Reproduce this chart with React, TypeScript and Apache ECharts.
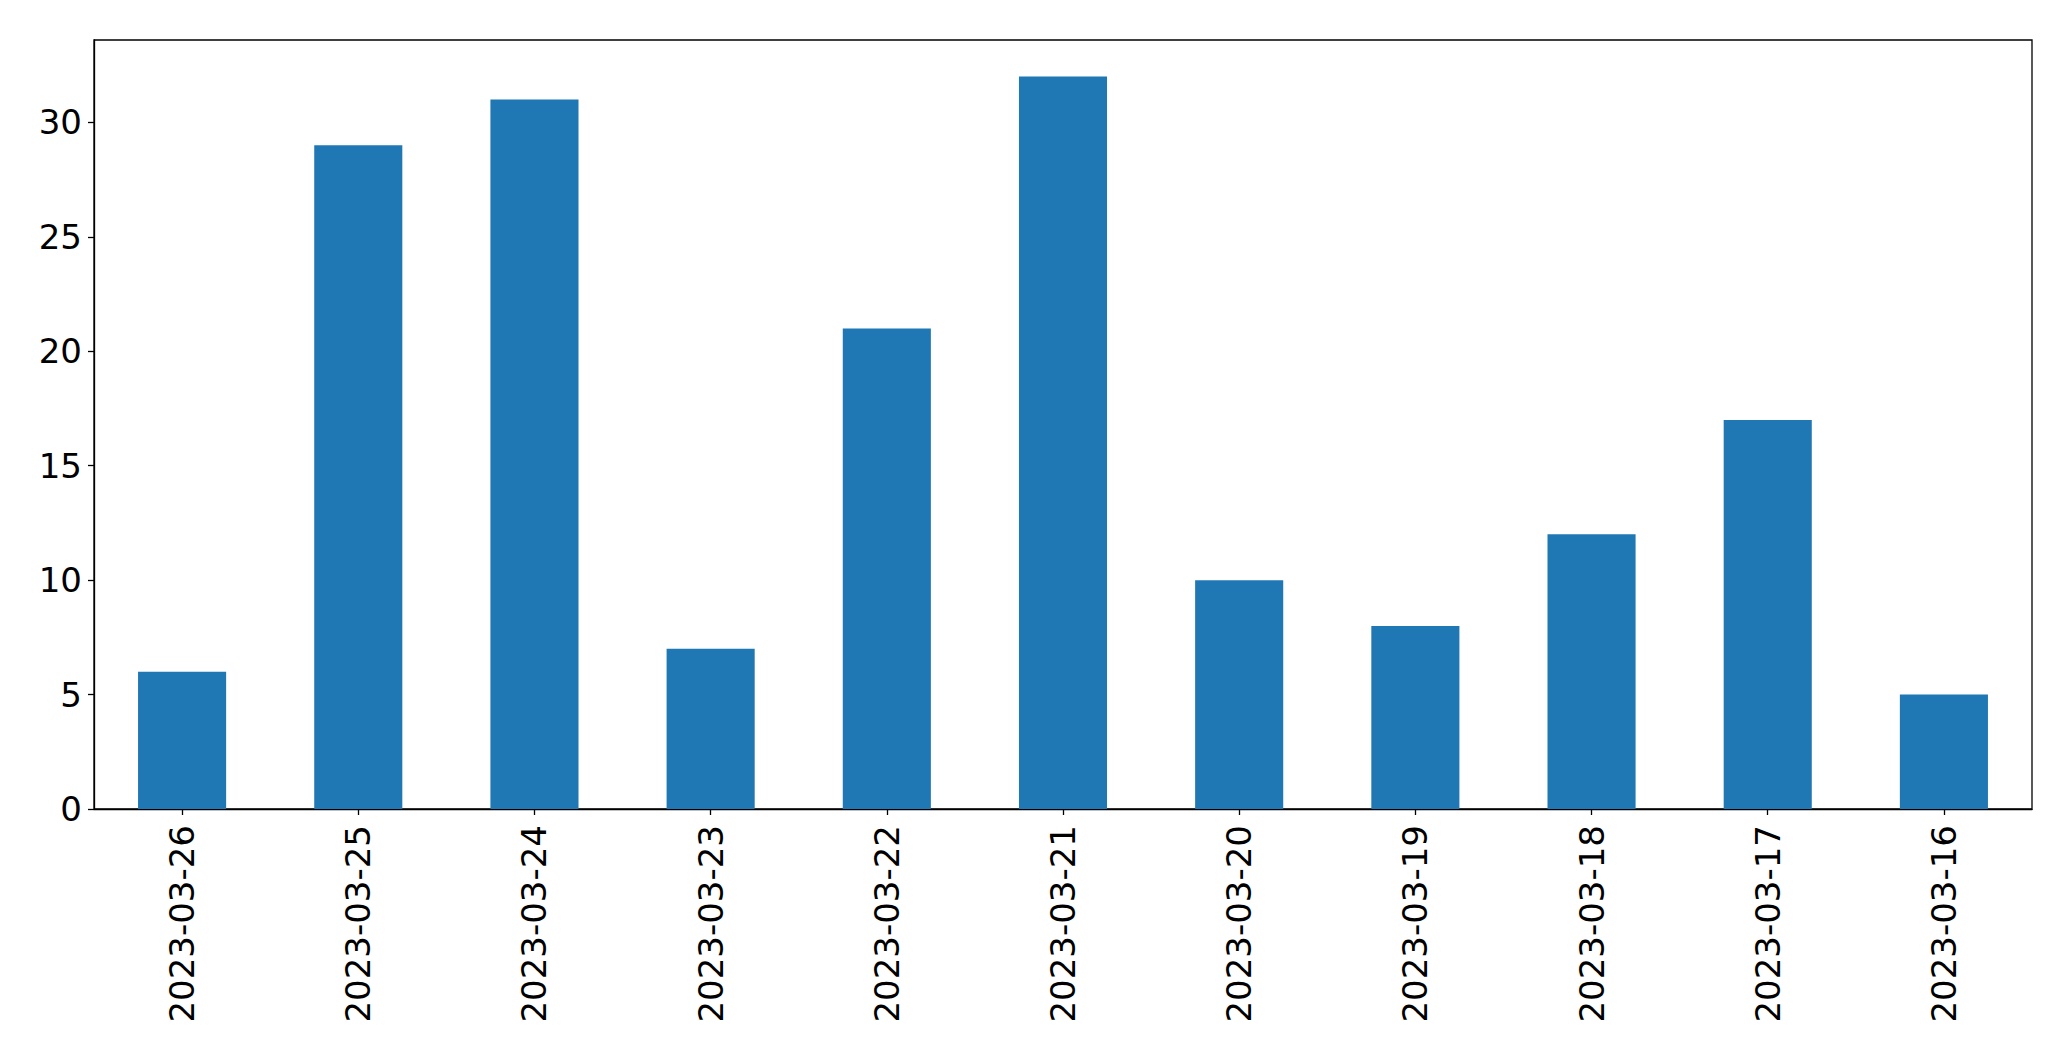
import React, { useEffect, useRef } from "react";
import * as echarts from "echarts";

const categories = [
  "2023-03-26",
  "2023-03-25",
  "2023-03-24",
  "2023-03-23",
  "2023-03-22",
  "2023-03-21",
  "2023-03-20",
  "2023-03-19",
  "2023-03-18",
  "2023-03-17",
  "2023-03-16",
];
const values = [6, 29, 31, 7, 21, 32, 10, 8, 12, 17, 5];
const yTicks = [0, 5, 10, 15, 20, 25, 30];
const yMax = 33.6;

export default function App() {
  const ref = useRef<HTMLDivElement>(null);
  useEffect(() => {
    if (!ref.current) return;
    const chart = echarts.init(ref.current, null, { renderer: "svg" });
    const font = "DejaVu Sans";
    chart.setOption({
      animation: false,
      backgroundColor: "#ffffff",
      grid: {
        left: 94,
        right: 39,
        top: 40,
        bottom: 252,
        show: true,
        borderColor: "#000000",
        borderWidth: 1.3,
        backgroundColor: "transparent",
      },
      xAxis: {
        type: "category",
        data: categories,
        axisLine: { show: true, lineStyle: { color: "#000", width: 1.3 } },
        axisTick: {
          show: true,
          alignWithLabel: true,
          length: 6,
          lineStyle: { color: "#000", width: 1.3 },
        },
        axisLabel: {
          rotate: 90,
          margin: 16,
          color: "#000",
          fontFamily: font,
          fontSize: 34,
          interval: 0,
        },
        splitLine: { show: false },
      },
      yAxis: {
        type: "value",
        min: 0,
        max: yMax,
        interval: 5,
        axisLine: { show: true, lineStyle: { color: "#000", width: 1.3 } },
        axisTick: {
          show: true,
          length: 6,
          customValues: yTicks,
          lineStyle: { color: "#000", width: 1.3 },
        },
        axisLabel: {
          margin: 12,
          color: "#000",
          fontFamily: font,
          fontSize: 34,
          customValues: yTicks,
        },
        splitLine: { show: false },
      },
      series: [
        {
          type: "bar",
          data: values,
          barWidth: "50%",
          itemStyle: { color: "#1f77b4" },
        },
      ],
    });
    return () => chart.dispose();
  }, []);
  return (
    <div
      ref={ref}
      style={{ position: "fixed", left: 0, top: 0, width: 2071, height: 1061 }}
    />
  );
}
